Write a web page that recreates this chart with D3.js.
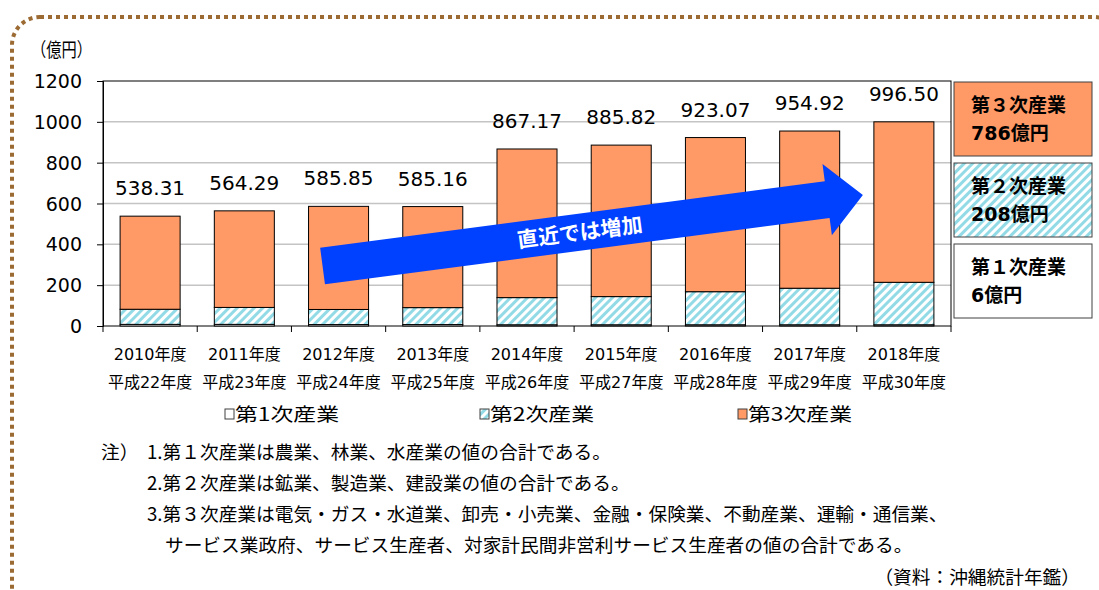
<!DOCTYPE html>
<html>
<head>
<meta charset="utf-8">
<script src="https://cdn.jsdelivr.net/npm/d3@7"></script>
<style>
  body { margin: 0; background: #fff; }
  svg { display: block; }
  text { font-family: 'DejaVu Sans', 'Noto Sans CJK JP', sans-serif; fill: #000; }
  .jp { font-family: 'Noto Sans CJK JP', sans-serif; }
</style>
</head>
<body>
<svg id="chart" width="1099" height="590"></svg>
<script>
// data
var years = ['2010', '2011', '2012', '2013', '2014', '2015', '2016', '2017', '2018'];
var heiseiLabels = ['平成22年度', '平成23年度', '平成24年度', '平成25年度', '平成26年度',
  '平成27年度', '平成28年度', '平成29年度', '平成30年度'];
var primary = [8, 8, 7, 7, 6, 6, 6, 6, 6];
var secondary = [74, 83, 74, 83, 133, 138, 162, 179, 208];
var tertiary = [456, 473, 505, 495, 728, 742, 755, 770, 786];
var totals = [538.31, 564.29, 585.85, 585.16, 867.17, 885.82, 923.07, 954.92, 996.50];
var yTicks = [0, 200, 400, 600, 800, 1000, 1200];
var seriesNames = ['第1次産業', '第2次産業', '第3次産業'];
var sideLabels = [['第３次産業', '786億円'], ['第２次産業', '208億円'], ['第１次産業', '6億円']];
var notes = [
  '1.第１次産業は農業、林業、水産業の値の合計である。',
  '2.第２次産業は鉱業、製造業、建設業の値の合計である。',
  '3.第３次産業は電気・ガス・水道業、卸売・小売業、金融・保険業、不動産業、運輸・通信業、',
  'サービス業政府、サービス生産者、対家計民間非営利サービス生産者の値の合計である。'
];
var arrowText = '直近では増加';
// arrow annotation in data terms: [year, value]
var arrowFrom = ['2012', 294];
var arrowTo = ['2018', 642];

var orange = '#FF9966';
var hatchColor = '#92dbe6';

var plotLeft = 103, plotRight = 951, plotTop = 81, plotBottom = 326;

var svg = d3.select('#chart');

// dotted frame
svg.append('rect')
  .attr('x', 12).attr('y', 17)
  .attr('width', 1110).attr('height', 620)
  .attr('rx', 28).attr('ry', 28)
  .attr('fill', 'none')
  .attr('stroke', '#9c6a33')
  .attr('stroke-width', 4)
  .attr('stroke-dasharray', '4 4');

// hatch pattern
var defs = svg.append('defs');
var pat = defs.append('pattern')
  .attr('id', 'hatch')
  .attr('patternUnits', 'userSpaceOnUse')
  .attr('width', 6).attr('height', 6)
  .attr('patternTransform', 'rotate(45)');
pat.append('rect').attr('width', 6).attr('height', 6).attr('fill', '#fff');
pat.append('rect').attr('width', 3).attr('height', 6).attr('fill', hatchColor);

var x = d3.scaleBand()
  .domain(years)
  .range([plotLeft, plotRight])
  .paddingInner(0.363)
  .paddingOuter(0.1815);

var y = d3.scaleLinear()
  .domain([0, 1200])
  .range([plotBottom, plotTop]);

// gridlines
svg.append('g')
  .selectAll('line')
  .data(yTicks.filter(function(d) { return d > 0 && d < 1200; }))
  .enter().append('line')
    .attr('x1', plotLeft).attr('x2', plotRight)
    .attr('y1', function(d) { return y(d); })
    .attr('y2', function(d) { return y(d); })
    .attr('stroke', '#c4c4c4')
    .attr('stroke-width', 1.5);

// plot frame
svg.append('rect')
  .attr('x', plotLeft).attr('y', plotTop)
  .attr('width', plotRight - plotLeft).attr('height', plotBottom - plotTop)
  .attr('fill', 'none')
  .attr('stroke', '#000')
  .attr('stroke-width', 1);

// y axis
var yAxis = svg.append('g')
  .attr('transform', 'translate(' + plotLeft + ',0)')
  .call(d3.axisLeft(y).tickValues(yTicks).tickSize(6).tickPadding(15)
    .tickFormat(d3.format('d')));
yAxis.select('.domain').attr('stroke', '#000');
yAxis.selectAll('.tick line').attr('stroke', '#000');
yAxis.selectAll('.tick text')
  .attr('font-size', '19px')
  .attr('font-family', "'DejaVu Sans', sans-serif")
  .attr('dy', '0.35em')
  .attr('fill', '#000');

svg.append('text')
  .attr('class', 'jp')
  .attr('x', 31).attr('y', 57)
  .attr('font-size', '19px')
  .attr('textLength', 61)
  .attr('lengthAdjust', 'spacingAndGlyphs')
  .text('（億円）');

// stacked bars
var rows = years.map(function(yr, i) {
  return { year: yr, p: primary[i], s: secondary[i], t: tertiary[i] };
});
var stack = d3.stack().keys(['p', 's', 't'])(rows);
var fills = ['#fff', 'url(#hatch)', orange];

svg.append('g')
  .selectAll('g')
  .data(stack)
  .enter().append('g')
    .attr('fill', function(d, i) { return fills[i]; })
  .selectAll('rect')
  .data(function(d) { return d; })
  .enter().append('rect')
    .attr('x', function(d) { return x(d.data.year); })
    .attr('width', x.bandwidth())
    .attr('y', function(d) { return y(d[1]); })
    .attr('height', function(d) { return y(d[0]) - y(d[1]); })
    .attr('stroke', '#000')
    .attr('stroke-width', 1);

// total labels
svg.append('g')
  .selectAll('text')
  .data(years)
  .enter().append('text')
    .attr('x', function(d) { return x(d) + x.bandwidth() / 2; })
    .attr('y', function(d, i) { return y(primary[i] + secondary[i] + tertiary[i]) - 21; })
    .attr('text-anchor', 'middle')
    .attr('font-size', '20px')
    .text(function(d, i) { return totals[i].toFixed(2); });

// x axis category ticks
var step = x.step();
var x0 = x(years[0]) - x.step() * x.paddingInner() / 2;
svg.append('g')
  .selectAll('line')
  .data(d3.range(years.length + 1))
  .enter().append('line')
    .attr('x1', function(i) { return x0 + i * step; })
    .attr('x2', function(i) { return x0 + i * step; })
    .attr('y1', plotBottom).attr('y2', plotBottom + 6)
    .attr('stroke', '#000');

var xl = svg.append('g');
xl.selectAll('text.yr')
  .data(years)
  .enter().append('text')
    .attr('class', 'yr')
    .attr('x', function(d) { return x(d) + x.bandwidth() / 2; })
    .attr('y', 360)
    .attr('text-anchor', 'middle')
    .attr('font-size', '16px')
    .text(function(d) { return d + '年度'; });
xl.selectAll('text.hs')
  .data(heiseiLabels)
  .enter().append('text')
    .attr('class', 'hs')
    .attr('x', function(d, i) { return x(years[i]) + x.bandwidth() / 2; })
    .attr('y', 388)
    .attr('text-anchor', 'middle')
    .attr('font-size', '16px')
    .text(function(d) { return d; });

// arrow
var ax = x(arrowFrom[0]) + 14, ay = y(arrowFrom[1]);
var bx = x(arrowTo[0]) - 11, by = y(arrowTo[1]);
var len = Math.hypot(bx - ax, by - ay);
var ang = Math.atan2(by - ay, bx - ax) * 180 / Math.PI;
var shaftHalf = 18.5, headHalf = 36, headLen = 36;
var arrowPts = [
  [0, -shaftHalf], [len - headLen, -shaftHalf], [len - headLen, -headHalf], [len, 0],
  [len - headLen, headHalf], [len - headLen, shaftHalf], [0, shaftHalf]
];
var arrowG = svg.append('g')
  .attr('transform', 'translate(' + ax + ',' + ay + ') rotate(' + ang + ')');
arrowG.append('path')
  .attr('d', d3.line()(arrowPts) + 'Z')
  .attr('fill', '#0041FF');
arrowG.append('text')
  .attr('class', 'jp')
  .attr('x', (len - headLen) / 2 + 5)
  .attr('y', 0)
  .attr('dy', '0.36em')
  .attr('text-anchor', 'middle')
  .attr('font-size', '21px')
  .attr('font-weight', 'bold')
  .style('fill', '#fff')
  .text(arrowText);

// side boxes
var boxFills = [orange, 'url(#hatch)', '#fff'];
var side = svg.append('g')
  .selectAll('g')
  .data(sideLabels)
  .enter().append('g')
    .attr('transform', function(d, i) { return 'translate(954,' + (82 + i * 81) + ')'; });
side.append('rect')
  .attr('width', 138).attr('height', 74)
  .attr('fill', function(d, i) { return boxFills[i]; })
  .attr('stroke', '#404040')
  .attr('stroke-width', 1);
side.append('text')
  .attr('x', 17).attr('y', 30)
  .attr('font-size', '19px')
  .attr('font-weight', 'bold')
  .text(function(d) { return d[0]; });
side.append('text')
  .attr('x', 17).attr('y', 58)
  .attr('font-size', '19px')
  .attr('font-weight', 'bold')
  .text(function(d) { return d[1]; });

// legend
var legendX = [225, 480, 738];
var legendFills = ['#fff', 'url(#hatch)', orange];
var lg = svg.append('g')
  .selectAll('g')
  .data(seriesNames)
  .enter().append('g')
    .attr('transform', function(d, i) { return 'translate(' + legendX[i] + ',421)'; });
lg.append('rect')
  .attr('x', 0).attr('y', -12)
  .attr('width', 9).attr('height', 10)
  .attr('fill', function(d, i) { return legendFills[i]; })
  .attr('stroke', '#404040')
  .attr('stroke-width', 1);
lg.append('text')
  .attr('class', 'jp')
  .attr('x', 10).attr('y', 0)
  .attr('font-size', '18px')
  .attr('textLength', 104)
  .attr('lengthAdjust', 'spacingAndGlyphs')
  .text(function(d) { return d; });

// notes
var nt = svg.append('g');
nt.append('text')
  .attr('class', 'jp')
  .attr('x', 101).attr('y', 459)
  .attr('font-size', '18.7px')
  .text('注）');
var noteX = [147, 147, 147, 165];
var noteY = [459, 490, 521, 552];
nt.selectAll('text.note')
  .data(notes)
  .enter().append('text')
    .attr('class', 'jp note')
    .attr('x', function(d, i) { return noteX[i]; })
    .attr('y', function(d, i) { return noteY[i]; })
    .attr('font-size', '18.7px')
    .text(function(d) { return d; });
svg.append('text')
  .attr('class', 'jp')
  .attr('x', 1080).attr('y', 584)
  .attr('text-anchor', 'end')
  .attr('font-size', '18.7px')
  .text('（資料：沖縄統計年鑑）');
</script>
</body>
</html>
